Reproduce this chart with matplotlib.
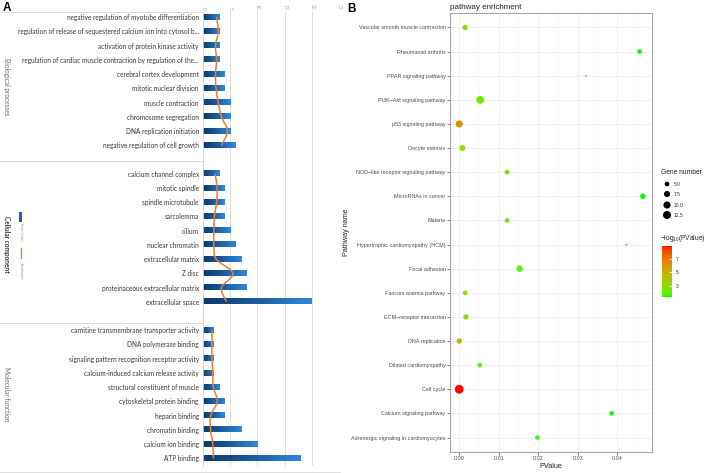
import numpy as np
import matplotlib
matplotlib.use('Agg')
import matplotlib.pyplot as plt
from matplotlib.colors import LinearSegmentedColormap, ListedColormap, Normalize
from matplotlib.cm import ScalarMappable
from matplotlib.path import Path
from matplotlib.patches import PathPatch, Rectangle
from matplotlib.lines import Line2D

plt.rcParams['mathtext.default'] = 'regular'

W, H = 709, 473

# ---------------- Panel A data ----------------
bp_terms = ["negative regulation of myotube differentiation",
            "regulation of release of sequestered calcium ion into cytosol b...",
            "activation of protein kinase activity",
            "regulation of cardiac muscle contraction by regulation of the...",
            "cerebral cortex development",
            "mitotic nuclear division",
            "muscle contraction",
            "chromosome segregation",
            "DNA replication initiation",
            "negative regulation of cell growth"]
bp_counts = [3, 3, 3, 3, 4, 4, 5, 5, 5, 6]
bp_enrich = [2.5, 2.8, 2.3, 2.5, 2.3, 2.4, 2.8, 3.4, 4.5, 3.4]

cc_terms = ["calcium channel complex", "mitotic spindle", "spindle microtubule",
            "sarcolemma", "cilium", "nuclear chromatin", "extracellular matrix",
            "Z disc", "proteinaceous extracellular matrix", "extracellular space"]
cc_counts = [3, 4, 4, 4, 5, 6, 7, 8, 8, 20]
cc_enrich = [2.2, 2.6, 2.5, 2.1, 2.0, 2.0, 2.4, 5.5, 3.4, 4.3]

mf_terms = ["carnitine transmembrane transporter activity", "DNA polymerase binding",
            "signaling pattern recognition receptor activity",
            "calcium-induced calcium release activity", "structural constituent of muscle",
            "cytoskeletal protein binding", "heparin binding", "chromatin binding",
            "calcium ion binding", "ATP binding"]
mf_counts = [2, 2, 2, 2, 3, 4, 4, 7, 10, 18]
mf_enrich = [1.65, 1.65, 1.65, 1.8, 1.9, 2.6, 1.4, 1.4, 1.8, 1.9]

a_ticks = [0, 5, 10, 15, 20, 25]
section_names = ["Biological processes", "Cellular component", "Molecular function"]

# ---------------- Panel B data (bottom to top) ----------------
pathways = ["Adrenergic signaling in cardiomyocytes", "Calcium signaling pathway",
            "Cell cycle", "Dilated cardiomyopathy", "DNA replication",
            "ECM\u2212receptor interaction", "Fanconi anemia pathway", "Focal adhesion",
            "Hypertrophic cardiomyopathy (HCM)", "Malaria", "MicroRNAs in cancer",
            "NOD\u2212like receptor signaling pathway", "Oocyte meiosis",
            "p53 signaling pathway", "PI3K\u2212Akt signaling pathway",
            "PPAR signaling pathway", "Rheumatoid arthritis",
            "Vascular smooth muscle contraction"]
pvalues = [0.0198, 0.0386, 1.1e-9, 0.0052, 2e-5, 0.0017, 0.0015, 0.0153,
           0.0423, 0.0121, 0.0465, 0.0121, 0.0008, 6e-7, 0.0053,
           0.0321, 0.0457, 0.0015]
gene_numbers = [5, 5, 15, 5, 6, 6, 5, 8, 3, 5, 6, 5, 7, 10, 12, 3, 5, 6]
b_xticks = [0.00, 0.01, 0.02, 0.03, 0.04]
size_breaks = [5.0, 7.5, 10.0, 12.5]
color_breaks = [3, 5, 7]

# ---------------- helpers ----------------
def px(x, y):
    return x / W, 1 - y / H

_M = np.array([[0.4124, 0.3576, 0.1805], [0.2126, 0.7152, 0.0722], [0.0193, 0.1192, 0.9505]])
_WP = np.array([0.95047, 1.0, 1.08883])

def srgb2lab(rgb):
    c = np.asarray(rgb, float)
    lin = np.where(c <= 0.04045, c / 12.92, ((c + 0.055) / 1.055) ** 2.4)
    xyz = _M @ lin / _WP
    d = 6 / 29
    f = np.where(xyz > d ** 3, np.cbrt(xyz), xyz / (3 * d * d) + 4 / 29)
    return np.array([116 * f[1] - 16, 500 * (f[0] - f[1]), 200 * (f[1] - f[2])])

def lab2srgb(lab):
    L, a, b = lab
    fy = (L + 16) / 116
    fx = fy + a / 500
    fz = fy - b / 200
    d = 6 / 29
    finv = lambda t: t ** 3 if t > d else 3 * d * d * (t - 4 / 29)
    xyz = np.array([finv(fx), finv(fy), finv(fz)]) * _WP
    lin = np.clip(np.linalg.inv(_M) @ xyz, 0, 1)
    s = np.where(lin <= 0.0031308, 12.92 * lin, 1.055 * lin ** (1 / 2.4) - 0.055)
    return np.clip(s, 0, 1)

lab_lo = srgb2lab([0, 1, 0])
lab_hi = srgb2lab([1, 0, 0])
cmap_gr = ListedColormap([lab2srgb(lab_lo + t * (lab_hi - lab_lo)) for t in np.linspace(0, 1, 256)])

bar_cmap = LinearSegmentedColormap.from_list("bar", ["#0e3866", "#1b5d9f", "#2f88dc"])

def smooth_path(xs, ys):
    P = np.column_stack([xs, ys]).astype(float)
    n = len(P)
    verts = [P[0]]
    codes = [Path.MOVETO]
    for i in range(n - 1):
        p0 = P[i - 1] if i > 0 else P[i]
        p1, p2 = P[i], P[i + 1]
        p3 = P[i + 2] if i + 2 < n else P[i + 1]
        verts += [p1 + (p2 - p0) / 6.0, p2 - (p3 - p1) / 6.0, p2]
        codes += [Path.CURVE4] * 3
    return Path(verts, codes)

# ---------------- figure ----------------
fig = plt.figure(figsize=(W / 100, H / 100), dpi=100)
fig.patch.set_facecolor('white')

fontA = ['Lato', 'DejaVu Sans']
fontB = ['Liberation Sans', 'DejaVu Sans']

# ---- Panel A ----
row0, step = 17.2, 14.23
ytop, ybot = 12, 466
axA = fig.add_axes([203 / W, 1 - ybot / H, 136 / W, (ybot - ytop) / H])
axA.set_facecolor('none')

sections = [(bp_terms, bp_counts, bp_enrich, 0),
            (cc_terms, cc_counts, cc_enrich, 11),
            (mf_terms, mf_counts, mf_enrich, 22)]
all_pos, all_labels = [], []
bh = 0.36
for terms, counts, enrich, off in sections:
    pos = np.arange(len(terms)) + off
    all_pos += list(pos)
    all_labels += terms
    for v, y in zip(counts, pos):
        axA.imshow(np.linspace(0, 1, 128).reshape(1, -1), cmap=bar_cmap, aspect='auto',
                   extent=(0, v, y + bh / 2, y - bh / 2), interpolation='bilinear', zorder=2)
    axA.add_patch(PathPatch(smooth_path(enrich, pos), facecolor='none',
                            edgecolor='#ED7D31', lw=1.1, zorder=3))

axA.set_xlim(0, 25)
axA.set_ylim((ybot - row0) / step, -(row0 - ytop) / step)
axA.set_yticks(all_pos)
axA.set_yticklabels(all_labels, fontsize=4.7, color='#383838', family=fontA)
axA.tick_params(axis='y', length=0, pad=3)
axA.xaxis.set_ticks_position('top')
axA.set_xticks(a_ticks)
axA.set_xticklabels([str(t) for t in a_ticks], rotation=270, fontsize=3.4, color='#a6a6a6', family=fontA)
axA.tick_params(axis='x', length=0, pad=1.5)
axA.grid(axis='x', color='#d9d9d9', lw=0.6, zorder=0)
axA.set_axisbelow(True)
for s in ['top', 'right', 'bottom']:
    axA.spines[s].set_visible(False)
axA.spines['left'].set_color('#d9d9d9')
axA.spines['left'].set_linewidth(0.6)

# section boxes
for yy, x1 in [(11.7, 203), (161.5, 203), (322.5, 203), (471.5, 340)]:
    fig.add_artist(Line2D([0, x1 / W], [1 - yy / H] * 2, color='#d9d9d9', lw=0.6))

# section labels
sec_y = [87, 244, 394]
sec_style = [('normal', '#6b6b6b'), ('bold', '#3a3a3a'), ('normal', '#6b6b6b')]
for name, yy, (wt, col) in zip(section_names, sec_y, sec_style):
    fig.text(*px(6.5, yy), name, rotation=270, ha='center', va='center', fontsize=4.7,
             fontweight=wt, color=col, family=fontA)

# small legend in panel A
fig.add_artist(Rectangle(px(19.3, 222), 2.8 / W, 9.5 / H, facecolor='#1f5fa8', edgecolor='none'))
fig.text(*px(20.8, 232), "Gene Count", rotation=270, ha='center', va='center', fontsize=2.3,
         color='#8c8c8c', family=fontA)
fig.add_artist(Line2D([20.8 / W] * 2, [1 - 248 / H, 1 - 258 / H], color='#ED7D31', lw=1.0))
fig.text(*px(20.8, 271), "Enrichment", rotation=270, ha='center', va='center', fontsize=2.3,
         color='#8c8c8c', family=fontA)

fig.text(*px(3, 8), "A", fontsize=8.5, fontweight='bold', va='center', ha='left', family=fontB)

# ---- Panel B ----
axB = fig.add_axes([450 / W, 1 - 452 / H, 202 / W, 439 / H])
ypos = np.arange(len(pathways))
logp = -np.log10(np.array(pvalues))
norm = Normalize(vmin=logp.min(), vmax=logp.max())
g = np.array(gene_numbers, float)
gmin, gmax = 3.0, 15.0

def size_of(gv):
    t = np.clip((np.asarray(gv, float) - gmin) / (gmax - gmin), 0, 1)
    d_px = 1.4 * (1 + 5 * np.sqrt(t)) + 0.4
    return (d_px * 0.72) ** 2

axB.scatter(pvalues, ypos, s=size_of(g), c=logp, cmap=cmap_gr, norm=norm,
            edgecolors='none', zorder=3)
axB.set_xlim(-0.00233, 0.04883)
axB.set_ylim(-0.6, len(pathways) - 0.4)
axB.set_yticks(ypos)
axB.set_yticklabels(pathways, fontsize=3.9, color='#4d4d4d', family=fontB)
axB.set_xticks(b_xticks)
axB.set_xticklabels(["%.2f" % t for t in b_xticks], fontsize=3.9, color='#4d4d4d', family=fontB)
axB.set_xticks([0.005, 0.015, 0.025, 0.035, 0.045], minor=True)
axB.tick_params(which='major', length=2, width=0.5, color='#4d4d4d', pad=1.2)
axB.tick_params(which='minor', length=0)
axB.grid(which='major', color='#ebebeb', lw=0.5, zorder=0)
axB.grid(which='minor', axis='x', color='#f2f2f2', lw=0.3, zorder=0)
axB.set_axisbelow(True)
for s in axB.spines.values():
    s.set_color('#a6a6a6')
    s.set_linewidth(0.8)
axB.set_xlabel("PValue", fontsize=5.2, family=fontB, color='#222222', labelpad=1)
axB.set_ylabel("Pathway name", fontsize=5.2, family=fontB, color='#222222', labelpad=1)
axB.set_title("pathway enrichment", loc='left', fontsize=5.8, family=fontB, color='#222222', pad=3)

fig.text(*px(347, 9), "B", fontsize=8.5, fontweight='bold', va='center', ha='left', family=fontB)

# size legend
fig.text(*px(661, 173), "Gene number", fontsize=4.8, va='center', ha='left', family=fontB, color='#222222')
lg = fig.add_axes([660 / W, 1 - 222 / H, 30 / W, 44 / H])
lg.set_xlim(0, 30)
lg.set_ylim(44, 0)
lg.axis('off')
leg_y = [6, 16, 27, 37]
lg.scatter([7] * 4, leg_y, s=size_of(size_breaks), color='black', edgecolors='none')
for yy, b in zip(leg_y, size_breaks):
    lg.text(13.5, yy, "%.1f" % b, fontsize=3.6, va='center', ha='left', family=fontB, color='#333333')

# colour legend
fig.text(*px(660, 238), r"$-$log$_{10}$(PValue)", fontsize=4.8, va='center', ha='left',
         family=fontB, color='#222222')
cax = fig.add_axes([662 / W, 1 - 297 / H, 10 / W, 51 / H])
cb = fig.colorbar(ScalarMappable(norm=norm, cmap=cmap_gr), cax=cax, ticks=color_breaks)
cb.outline.set_visible(False)
cb.ax.tick_params(labelsize=3.6, length=2, width=0.5, color='white', direction='in', pad=2.5)
for t in cb.ax.get_yticklabels():
    t.set_family(fontB)
    t.set_color('#333333')

fig.savefig("out.png", dpi=100, facecolor='white')
